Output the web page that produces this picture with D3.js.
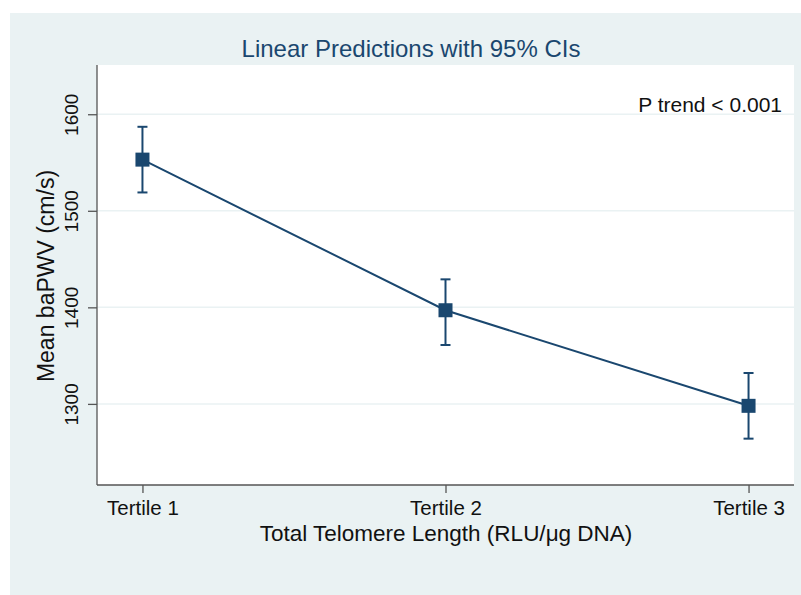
<!DOCTYPE html>
<html>
<head>
<meta charset="utf-8">
<script src="https://cdn.jsdelivr.net/npm/d3@7"></script>
<style>
  body { margin: 0; background: #ffffff; }
  text { font-family: "Liberation Sans", Arial, sans-serif; }
</style>
</head>
<body>
<div id="chart"></div>
<script>
"use strict"

// data
const tertiles = ["Tertile 1", "Tertile 2", "Tertile 3"]
const tertilePos = [1, 2, 3]
const meanPWV = [1553, 1397, 1298]
const ciLow = [1519, 1361, 1264]
const ciHigh = [1587, 1429, 1332]
const yTicks = [1300, 1400, 1500, 1600]

const W = 801, H = 595
const plot = {left: 97, right: 794, top: 65, bottom: 485}
const navy = "#1a476f"
const bg = "#eaf2f3"

const svg = d3.select("#chart").append("svg")
  .attr("width", W)
  .attr("height", H)

// outer background
svg.append("rect")
  .attr("x", 10).attr("y", 13)
  .attr("width", W - 10).attr("height", H - 13)
  .attr("fill", bg)

// plot region
svg.append("rect")
  .attr("x", plot.left).attr("y", plot.top)
  .attr("width", plot.right - plot.left).attr("height", plot.bottom - plot.top)
  .attr("fill", "#ffffff")

const x = d3.scaleLinear().domain([0.85, 3.15]).range([plot.left, plot.right])
const y = d3.scaleLinear().domain([1216, 1651]).range([plot.bottom, plot.top])

// grid lines
svg.append("g")
  .selectAll("line")
  .data(yTicks)
  .enter().append("line")
    .attr("x1", plot.left).attr("x2", plot.right)
    .attr("y1", d => y(d)).attr("y2", d => y(d))
    .attr("stroke", bg)
    .attr("stroke-width", 1.5)

// y axis
const yAxis = svg.append("g")
  .attr("transform", "translate(" + plot.left + ",0)")
  .call(d3.axisLeft(y).tickValues(yTicks).tickSize(9).tickSizeOuter(0).tickFormat(d3.format("d")))
yAxis.select(".domain").attr("stroke", "#555").attr("stroke-width", 1.3)
  .attr("d", "M0," + plot.top + "V" + plot.bottom)
yAxis.selectAll(".tick line").attr("stroke", "#555").attr("stroke-width", 1.3)
yAxis.selectAll(".tick text")
  .attr("x", 0).attr("y", 0).attr("dy", null)
  .attr("transform", "translate(-19,0) rotate(-90)")
  .attr("text-anchor", "middle")
  .style("font-size", "19px")
  .attr("fill", "#111")

// x axis
const xAxis = svg.append("g")
  .attr("transform", "translate(0," + plot.bottom + ")")
  .call(d3.axisBottom(x).tickValues(tertilePos).tickSize(8).tickSizeOuter(0)
    .tickFormat((d, i) => tertiles[i]))
xAxis.select(".domain").attr("stroke", "#555").attr("stroke-width", 1.3)
  .attr("d", "M" + plot.left + ",0H" + plot.right)
xAxis.selectAll(".tick line").attr("stroke", "#555").attr("stroke-width", 1.3)
xAxis.selectAll(".tick text")
  .attr("y", 30).attr("dy", null)
  .style("font-size", "20.5px")
  .attr("fill", "#111")

// error bars
const bars = svg.append("g")
tertilePos.forEach(function(p, i) {
  bars.append("line")
    .attr("x1", x(p)).attr("x2", x(p))
    .attr("y1", y(ciLow[i])).attr("y2", y(ciHigh[i]))
    .attr("stroke", navy).attr("stroke-width", 2)
  ;[ciLow[i], ciHigh[i]].forEach(function(v) {
    bars.append("line")
      .attr("x1", x(p) - 5).attr("x2", x(p) + 5)
      .attr("y1", y(v)).attr("y2", y(v))
      .attr("stroke", navy).attr("stroke-width", 2)
  })
})

// connecting line
const line = d3.line()
  .x((d, i) => x(tertilePos[i]))
  .y(d => y(d))
svg.append("path")
  .datum(meanPWV)
  .attr("d", line)
  .attr("fill", "none")
  .attr("stroke", navy)
  .attr("stroke-width", 2)

// markers
svg.append("g")
  .selectAll("rect")
  .data(meanPWV)
  .enter().append("rect")
    .attr("x", (d, i) => x(tertilePos[i]) - 7)
    .attr("y", d => y(d) - 7)
    .attr("width", 14).attr("height", 14)
    .attr("fill", navy)

// titles
svg.append("text")
  .attr("x", 411).attr("y", 57)
  .attr("text-anchor", "middle")
  .style("font-size", "24px")
  .attr("fill", navy)
  .text("Linear Predictions with 95% CIs")

svg.append("text")
  .attr("x", 446).attr("y", 541)
  .attr("text-anchor", "middle")
  .style("font-size", "22.5px")
  .attr("fill", "#111")
  .text("Total Telomere Length (RLU/\u03bcg DNA)")

svg.append("text")
  .attr("transform", "translate(54," + ((plot.top + plot.bottom) / 2 + 1) + ") rotate(-90)")
  .attr("text-anchor", "middle")
  .style("font-size", "23px")
  .attr("fill", "#111")
  .text("Mean baPWV (cm/s)")

svg.append("text")
  .attr("x", 782).attr("y", 112)
  .attr("text-anchor", "end")
  .style("font-size", "21px")
  .attr("fill", "#111")
  .text("P trend < 0.001")
</script>
</body>
</html>
